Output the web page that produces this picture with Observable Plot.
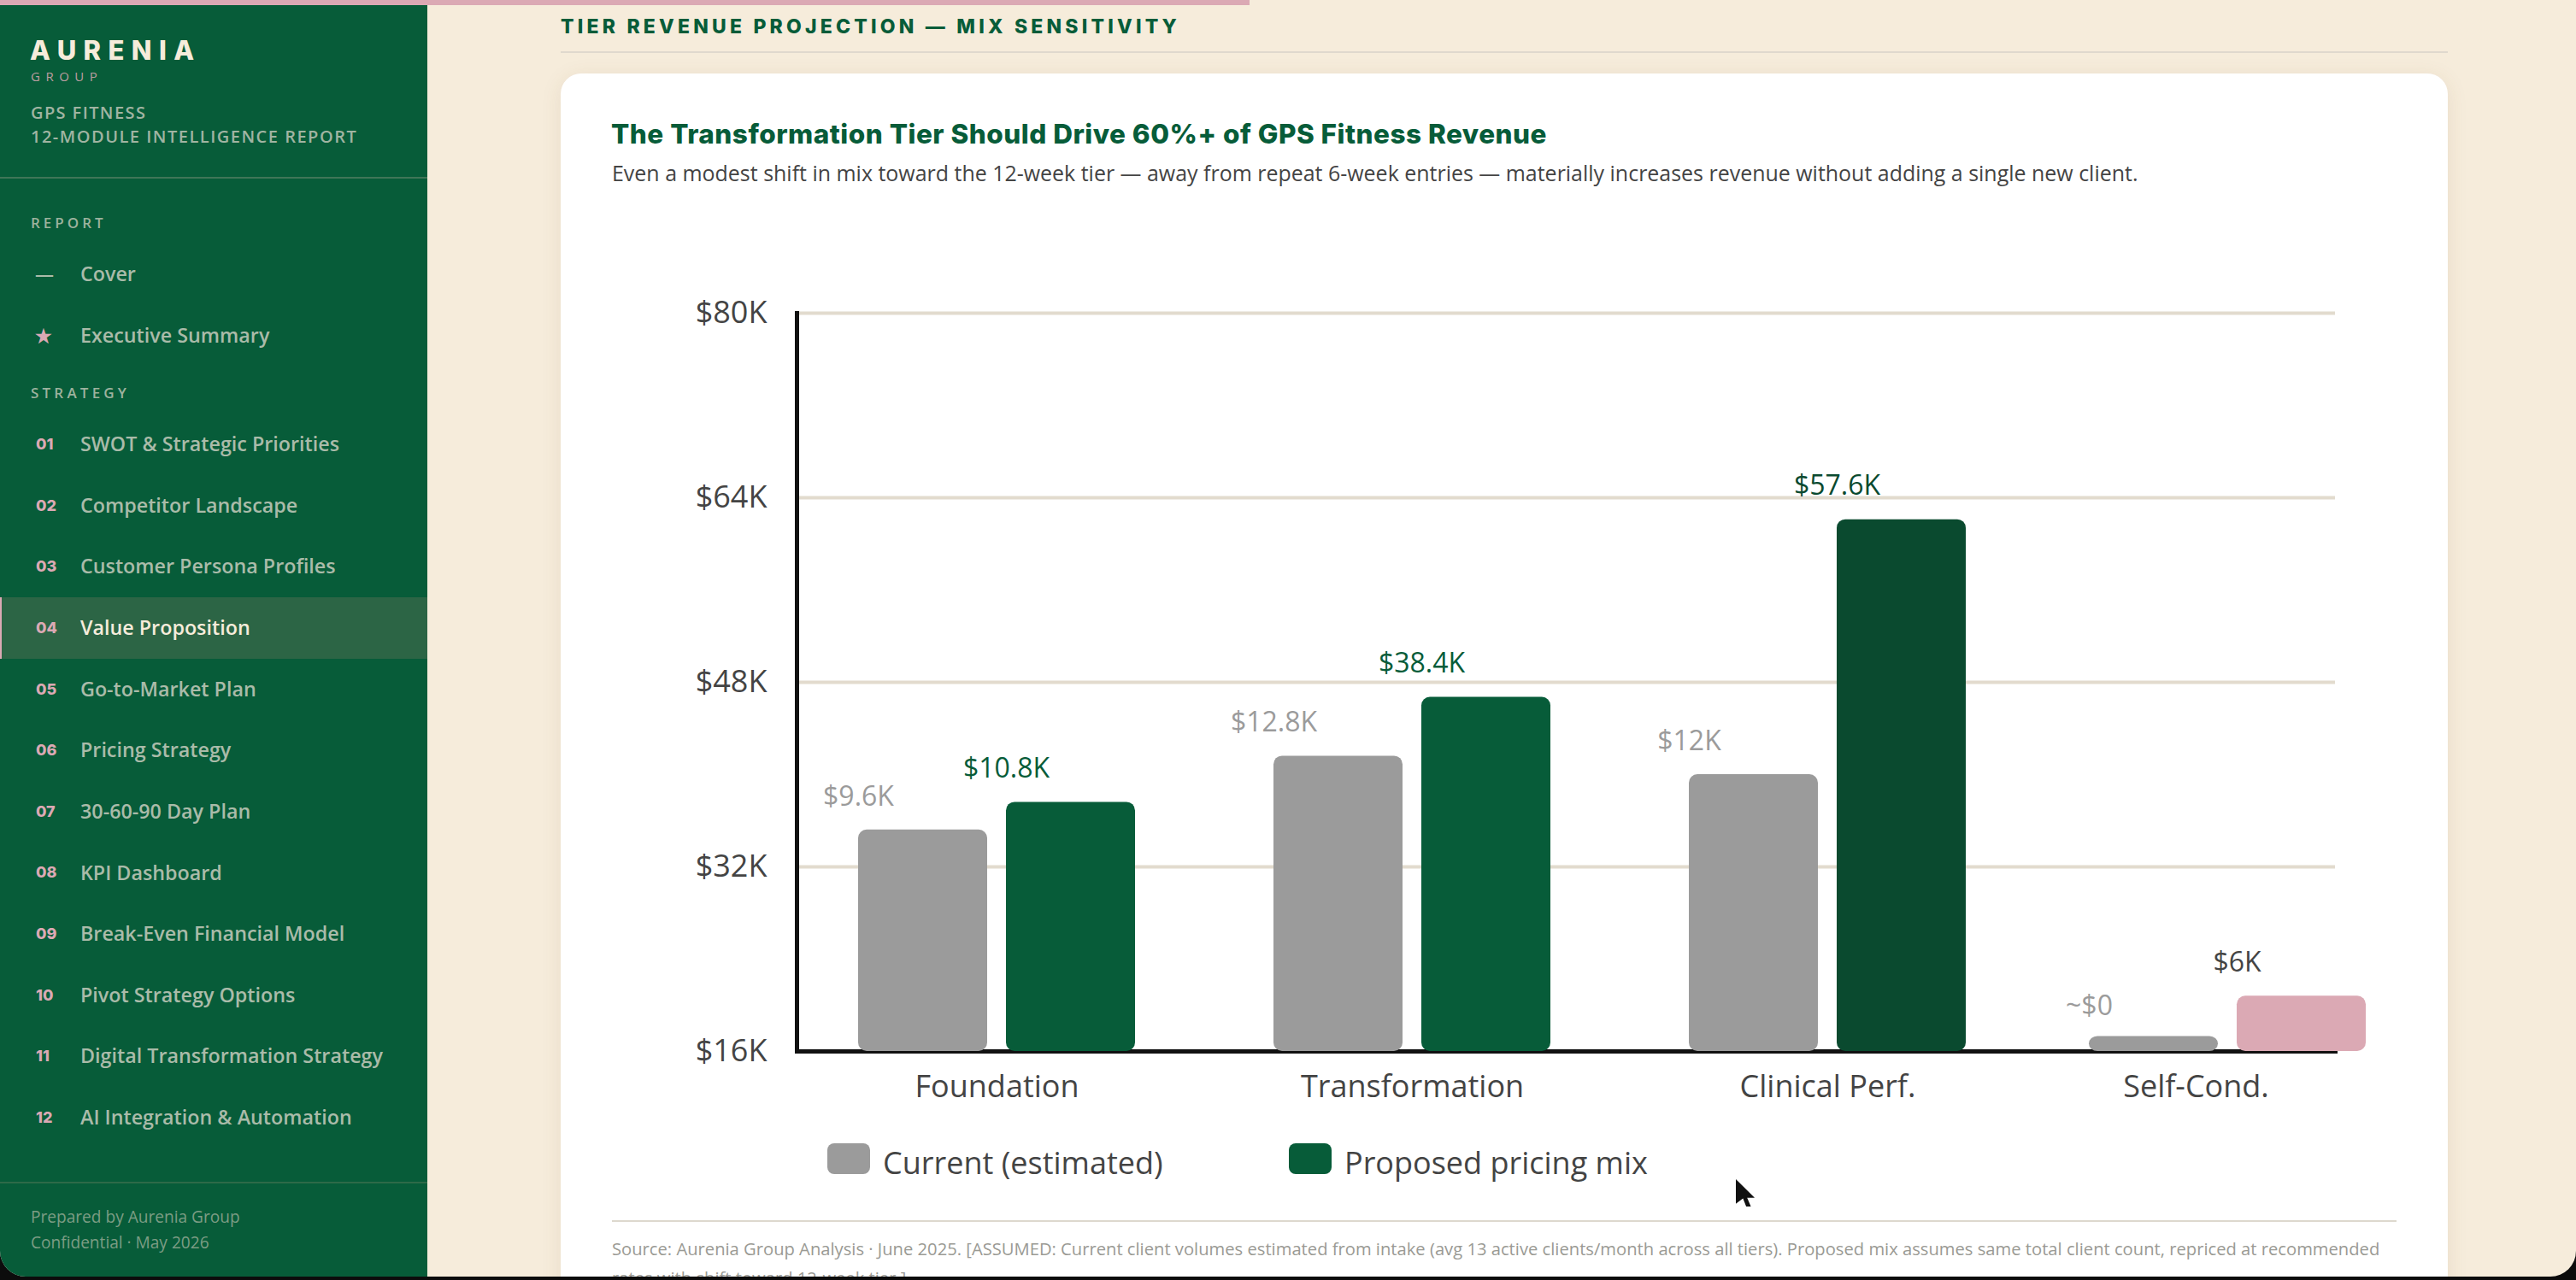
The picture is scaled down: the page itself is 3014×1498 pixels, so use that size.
<!DOCTYPE html>
<html>
<head>
<meta charset="utf-8">
<script src="https://cdn.jsdelivr.net/npm/d3@7"></script>
<script src="https://cdn.jsdelivr.net/npm/@observablehq/plot@0.6"></script>
<style>
html,body{margin:0;padding:0;width:3014px;height:1498px;overflow:hidden;background:#0c0c0c;}
#page{position:absolute;left:0;top:0;width:3014px;height:1494px;background:#F6ECDB;overflow:hidden;border-bottom-left-radius:30px;border-bottom-right-radius:30px;font-family:"Open Sans",sans-serif;}
.t{position:absolute;white-space:nowrap;line-height:0;}
.m{font-family:Inter,sans-serif;font-weight:800;}
#bar{position:absolute;left:0;top:0;width:1462px;height:6px;background:#DBA9B4;}
#side{position:absolute;left:0;top:6px;width:500px;height:1488px;background:#075C39;}
#card{position:absolute;left:656px;top:86px;width:2208px;height:1500px;background:#fff;border-radius:24px;box-shadow:0 4px 24px rgba(120,85,40,.10);}
.hr{position:absolute;height:2px;}
.sw{position:absolute;width:50px;height:36px;border-radius:8px;}
#chart{position:absolute;left:700px;top:300px;}
#chart svg{overflow:visible;display:block;background:transparent;}
#cursor{position:absolute;left:2031px;top:1380px;width:22px;height:32px;background:#111;clip-path:polygon(0 0,100% 68%,60% 68%,80% 100%,55% 100%,38% 70%,0 90%);}
</style>
</head>
<body>
<div id="page"><div id="bar"></div><div id="side"></div><div id="card"></div><div id="chart"></div><div id="cursor"></div></div>
<script>
const tiers = ["Foundation", "Transformation", "Clinical Perf.", "Self-Cond."];
const currentRevenue = [35.2, 41.6, 40, 17.3];
const proposedRevenue = [37.6, 46.7, 62.1, 20.8];
const currentLabels = ["$9.6K", "$12.8K", "$12K", "~$0"];
const proposedLabels = ["$10.8K", "$38.4K", "$57.6K", "$6K"];
const yTicks = [16, 32, 48, 64, 80];
const seriesNames = ["Current (estimated)", "Proposed pricing mix"];

const navReport = [["—", "Cover"], ["★", "Executive Summary"]];
const navStrategy = [
  "SWOT & Strategic Priorities", "Competitor Landscape", "Customer Persona Profiles", "Value Proposition",
  "Go-to-Market Plan", "Pricing Strategy", "30-60-90 Day Plan", "KPI Dashboard",
  "Break-Even Financial Model", "Pivot Strategy Options", "Digital Transformation Strategy", "AI Integration & Automation"
];
const sectionTitle = "TIER REVENUE PROJECTION — MIX SENSITIVITY";
const chartTitle = "The Transformation Tier Should Drive 60%+ of GPS Fitness Revenue";
const chartSubtitle = "Even a modest shift in mix toward the 12-week tier — away from repeat 6-week entries — materially increases revenue without adding a single new client.";
const sourceText = "Source: Aurenia Group Analysis · June 2025. [ASSUMED: Current client volumes estimated from intake (avg 13 active clients/month across all tiers). Proposed mix assumes same total client count, repriced at recommended";
const sourceText2 = "rates with shift toward 12-week tier.]";

const GREEN = "#075C39", DEEP = "#0A4A2F", PINK = "#DBA9B4", GREY = "#9B9B9B", INK = "#444444", CREAM = "#F6ECDB", SAGE = "#AABBA9";
const page = document.getElementById("page");

// text helper: y is the baseline, converted for the font's metrics
function put(txt, x, y, size, color, o = {}) {
  const d = document.createElement("div");
  const offset = o.inter ? .364 : .388;
  d.className = "t" + (o.inter ? " m" : "");
  d.textContent = txt;
  d.style.cssText += `left:${x}px;top:${y - offset * size}px;font-size:${size}px;color:${color};` +
    (o.weight ? `font-weight:${o.weight};` : "") + (o.ls ? `letter-spacing:${o.ls}px;` : "") +
    (o.opacity ? `opacity:${o.opacity};` : "") + (o.z ? `z-index:${o.z};` : "");
  page.appendChild(d);
  return d;
}
function rule(x, y, w, color, h = 2) {
  const d = document.createElement("div");
  d.className = "hr";
  d.style.cssText += `left:${x}px;top:${y}px;width:${w}px;height:${h}px;background:${color};`;
  page.appendChild(d);
}

// Sidebar
put("AURENIA", 35, 70.5, 31, CREAM, {inter: true, ls: 8.4});
put("GROUP", 36, 95, 15, PINK, {ls: 6.5, weight: 400, opacity: .85});
put("GPS FITNESS", 36, 140, 20, "#A0B4A2", {weight: 600, ls: 1.4});
put("12-MODULE INTELLIGENCE REPORT", 36, 168, 20, "#A0B4A2", {weight: 600, ls: 1.5});
rule(0, 207, 500, "#3F7657");
put("REPORT", 36, 268, 17, "#9DB29E", {weight: 600, ls: 4});
navReport.forEach(([g, label], i) => {
  const y = 329 + i * 72;
  put(g, 41, y, 22, i ? PINK : "#AABBA9", {weight: 600});
  put(label, 94, y, 23.3, SAGE, {weight: 600});
});
put("STRATEGY", 36, 467, 17, "#9DB29E", {weight: 600, ls: 4.2});
{
  const row = document.createElement("div");
  row.style.cssText = "position:absolute;left:0;top:699px;width:500px;height:72px;background:#2C6545;border-left:2px solid #DBA9B4;box-sizing:border-box;";
  page.appendChild(row);
}
navStrategy.forEach((label, i) => {
  const y = 528 + i * 71.65, active = i === 3;
  put(String(i + 1).padStart(2, "0"), 42, y - 1.5, 18, PINK, {inter: true});
  put(label, 94, y, 23.3, active ? CREAM : SAGE, {weight: 600});
});
rule(0, 1383, 500, "#2D6A48");
put("Prepared by Aurenia Group", 36, 1431, 19.1, "#7C9C84");
put("Confidential · May 2026", 36, 1461, 19.1, "#7C9C84");

// Heading, card text
put(sectionTitle, 656, 39, 23, GREEN, {inter: true, ls: 4.2});
rule(656, 60, 2208, "#E0D9CD");
put(chartTitle, 715, 168, 31.5, GREEN, {inter: true, ls: .5});
put(chartSubtitle, 716, 212, 24.96, INK);

// Legend below the chart
[[968, 1033, GREY], [1508, 1573, GREEN]].forEach(([sx, tx, c], i) => {
  const s = document.createElement("div");
  s.className = "sw";
  s.style.cssText += `left:${sx}px;top:1338px;background:${c};`;
  page.appendChild(s);
  put(seriesNames[i], tx, 1375, 36, INK);
});
rule(716, 1428, 2088, "#DDD8CE");
put(sourceText, 716, 1469, 20.2, "#9A9A94");
put(sourceText2, 716, 1503, 20.2, "#9A9A94");

// Chart
const rows = tiers.flatMap((tier, i) => [
  {tier, key: "current", value: currentRevenue[i], label: currentLabels[i]},
  {tier, key: tier === "Clinical Perf." ? "deep" : tier === "Self-Cond." ? "new" : "proposed", value: proposedRevenue[i], label: proposedLabels[i]}
]);
const lastTier = tiers[tiers.length - 1];
const isCurrent = d => d.key === "current";
const floor = yTicks[0];

function bars(subset, shift) {
  return [
    Plot.barY(subset.filter(isCurrent), {x: "tier", y1: () => floor, y2: "value", fill: "key", rx: 10, insetLeft: 81, insetRight: 254, dx: shift}),
    Plot.barY(subset.filter(d => !isCurrent(d)), {x: "tier", y1: () => floor, y2: "value", fill: "key", rx: 10, insetLeft: 254, insetRight: 81, dx: shift})
  ];
}
function labels(subset, leftEdge, ink, shift, dy) {
  return Plot.text(subset, {x: "tier", y: "value", text: "label", fill: ink, fontSize: 32, textAnchor: "middle", dx: leftEdge + shift, dy});
}
const mainRows = rows.filter(d => d.tier !== lastTier);
const lastRows = rows.filter(d => d.tier === lastTier);

const plot = Plot.plot({
  width: 2100,
  height: 1020,
  marginLeft: 232,
  marginRight: 68,
  marginTop: 66,
  marginBottom: 90,
  style: {fontFamily: "'Open Sans',sans-serif", background: "transparent"},
  x: {type: "band", domain: tiers, range: [223, 2167], padding: 0},
  y: {domain: [yTicks[0], yTicks[yTicks.length - 1]]},
  color: {domain: ["current", "proposed", "deep", "new"], range: [GREY, GREEN, DEEP, PINK]},
  marks: [
    Plot.ruleY(yTicks.slice(1), {stroke: "#E2DBCE", strokeWidth: 4}),
    Plot.frame({anchor: "left", stroke: "#111", strokeWidth: 5}),
    Plot.frame({anchor: "bottom", stroke: "#111", strokeWidth: 5}),
    Plot.axisY({ticks: yTicks, tickSize: 0, tickPadding: 35, tickFormat: d => `$${d}K`, fontSize: 36, fill: INK, label: null}),
    Plot.axisX({ticks: tiers.slice(0, 3), tickSize: 0, tickPadding: 28, fontSize: 36, fill: INK, label: null}),
    Plot.axisX({ticks: [lastTier], tickSize: 0, tickPadding: 28, fontSize: 36, fill: INK, label: null, dx: -55}),
    ...bars(mainRows, 0),
    ...bars(lastRows, -18),
    labels(mainRows.filter(isCurrent), -162, GREY, 0, -39),
    labels(mainRows.filter(d => d.key === "proposed"), 11, GREEN, 0, -39),
    labels(mainRows.filter(d => d.key === "deep"), 11, DEEP, 0, -39),
    labels(lastRows.filter(isCurrent), -162, GREY, -18, -35),
    labels(lastRows.filter(d => !isCurrent(d)), 11, INK, -18, -39)
  ]
});
document.getElementById("chart").appendChild(plot);
</script>
</body>
</html>
